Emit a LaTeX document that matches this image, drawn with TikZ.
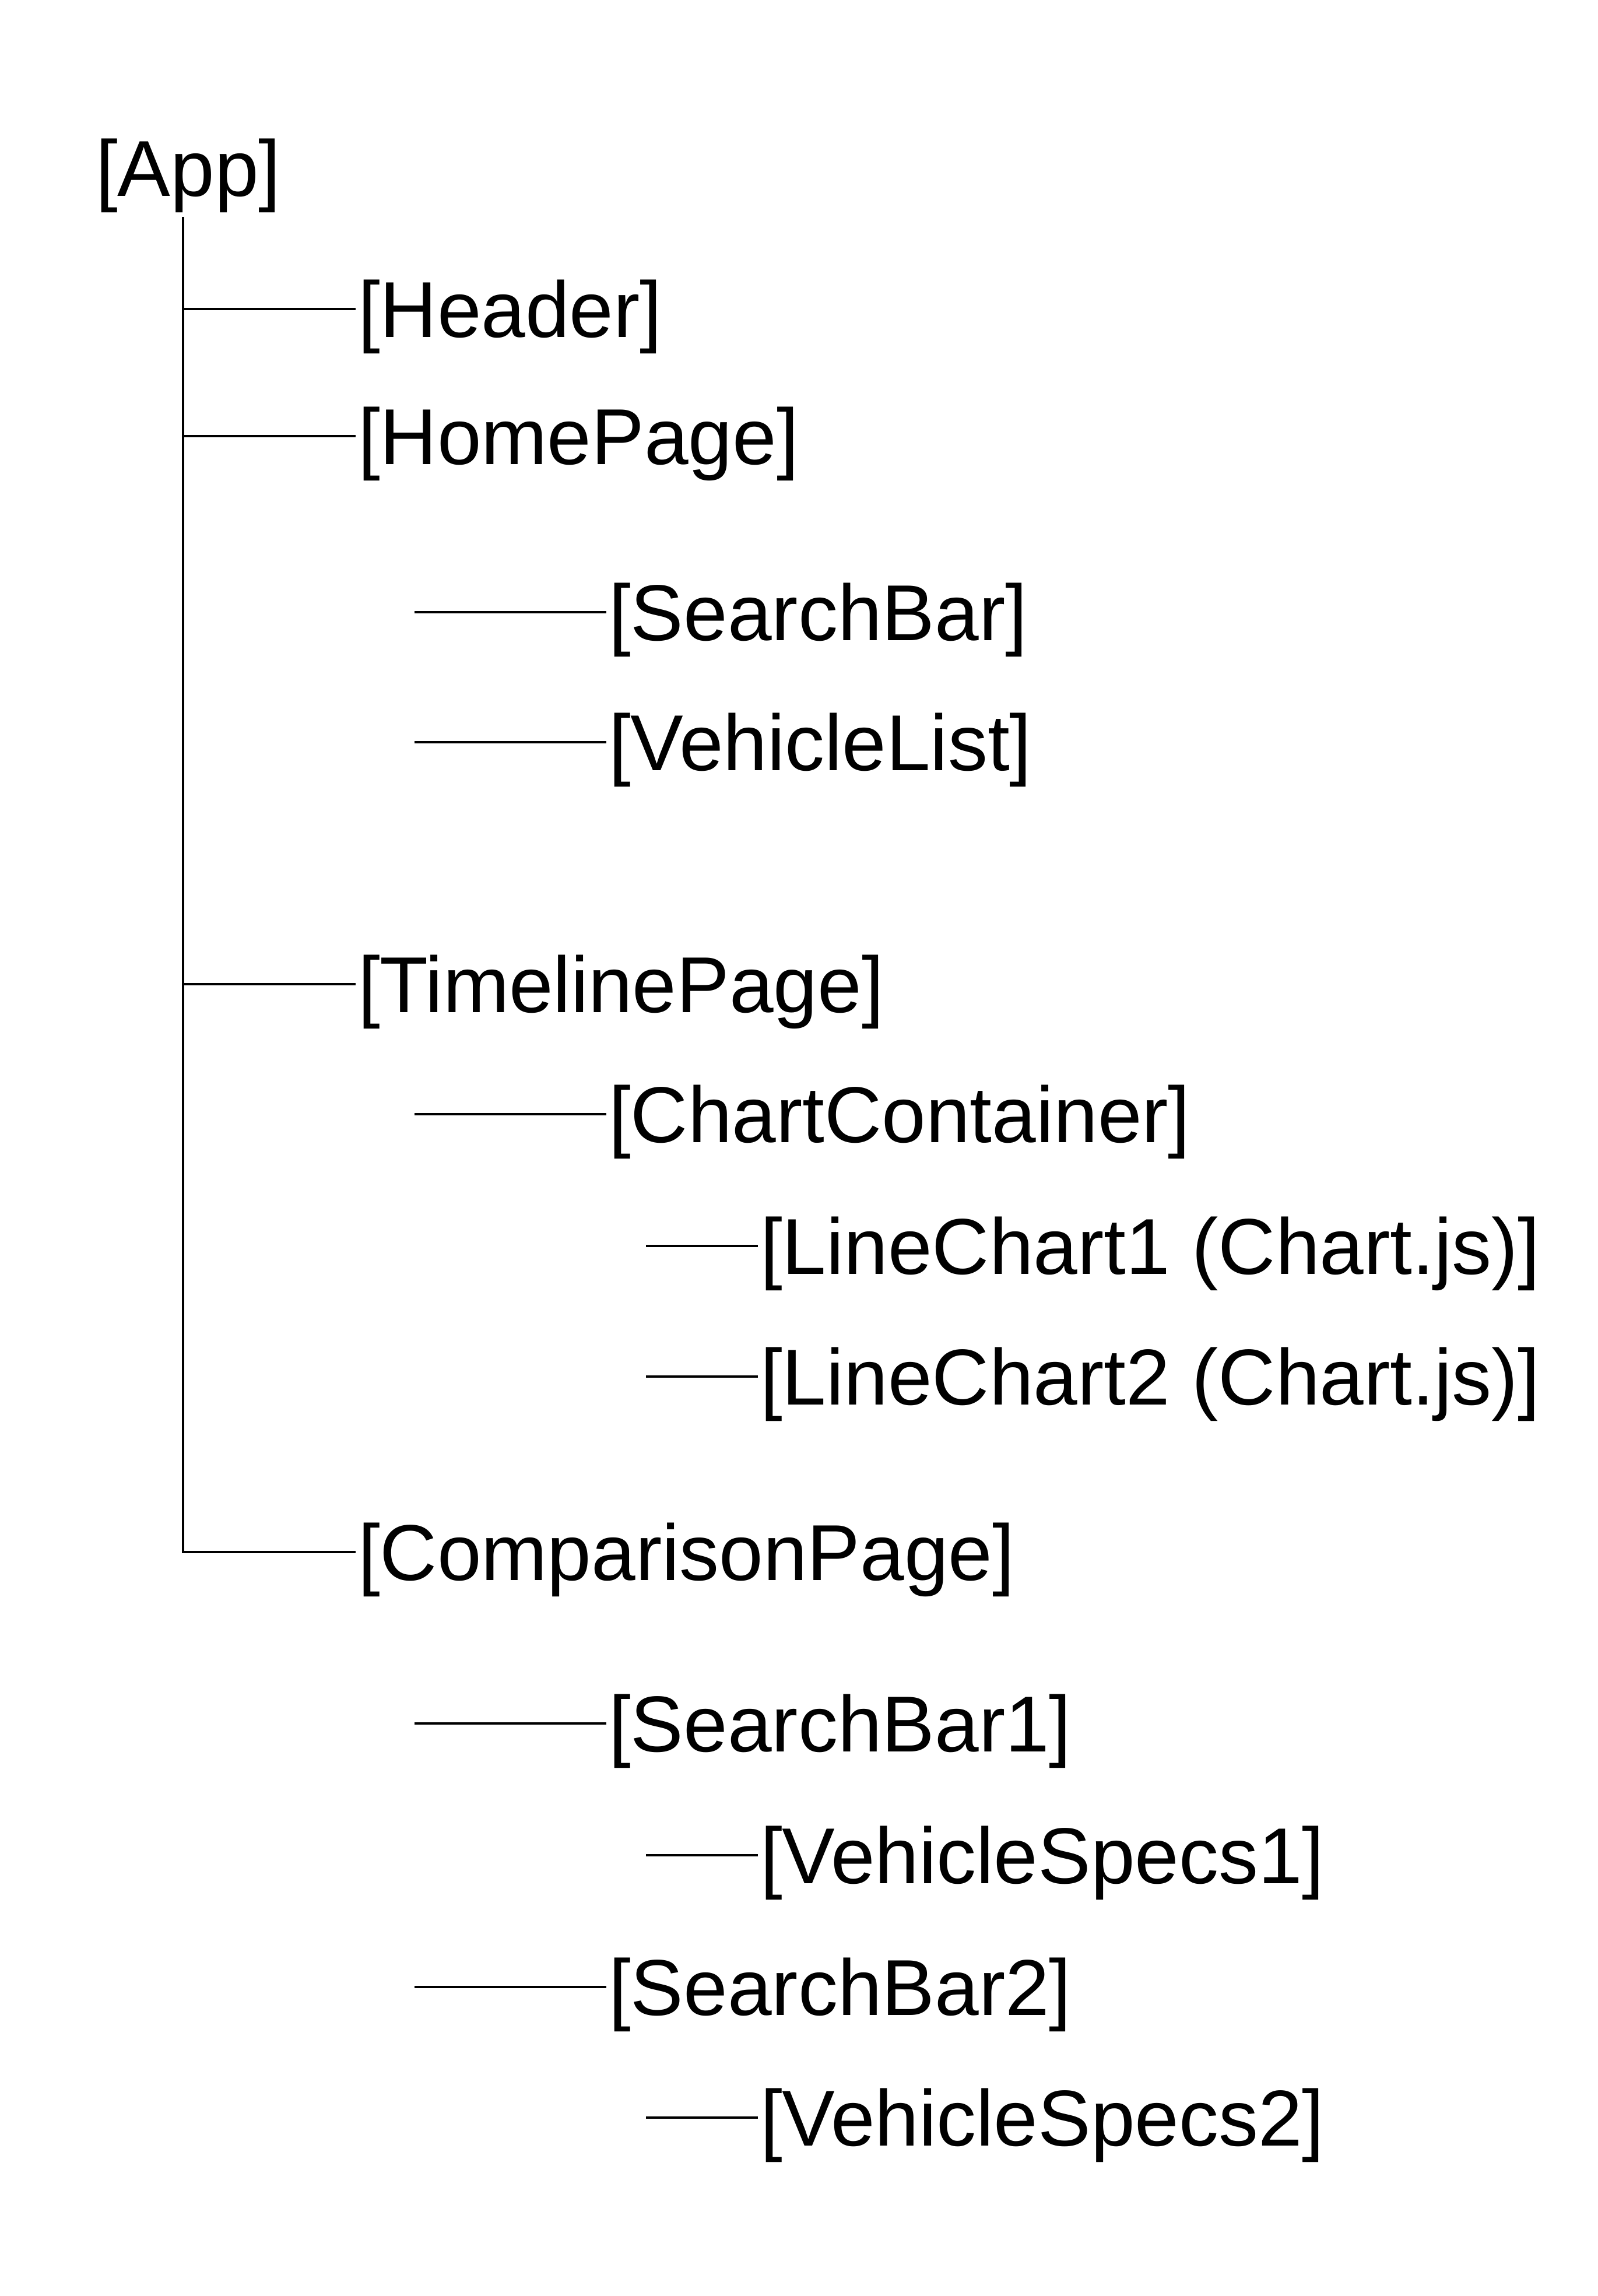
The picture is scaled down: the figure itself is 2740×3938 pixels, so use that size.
\documentclass[tikz,border=0pt]{standalone}
\usepackage{fontspec}
\setmainfont{Liberation Sans}
\usetikzlibrary{positioning}

\begin{document}
\begin{tikzpicture}[
  x=0.25pt, y=0.25pt,
  comp/.style={anchor=west, inner sep=1pt, outer sep=0pt,
               text height=31pt, text depth=7pt,
               font=\fontsize{34}{40}\selectfont},
  link/.style={line width=1.2pt, line cap=butt}]

\useasboundingbox (0,0) rectangle (2740,-3938);

% columns for the branch lines
\coordinate (top) at (314,-372);
\coordinate (c2)  at (711,0);
\coordinate (c3)  at (1108,0);

\node[comp] (app)  at (160,-289)  {[App]};
\node[comp] (hdr)  at (610,-530)  {[Header]};
\node[comp] (home) at (610,-748)  {[HomePage]};
\node[comp] (sb)   at (1040,-1050) {[SearchBar]};
\node[comp] (vl)   at (1040,-1273) {[VehicleList]};
\node[comp] (tl)   at (610,-1688) {[TimelinePage]};
\node[comp] (cc)   at (1040,-1911) {[ChartContainer]};
\node[comp] (lc1)  at (1300,-2137) {[LineChart1 (Chart.js)]};
\node[comp] (lc2)  at (1300,-2361) {[LineChart2 (Chart.js)]};
\node[comp] (cmp)  at (610,-2662) {[ComparisonPage]};
\node[comp] (sb1)  at (1040,-2956) {[SearchBar1]};
\node[comp] (vs1)  at (1300,-3182) {[VehicleSpecs1]};
\node[comp] (sb2)  at (1040,-3408) {[SearchBar2]};
\node[comp] (vs2)  at (1300,-3632) {[VehicleSpecs2]};

% trunk
\draw[link] (top) -- (top |- cmp.west) -- (cmp.west);
\draw[link] (top |- hdr.west)  -- (hdr.west);
\draw[link] (top |- home.west) -- (home.west);
\draw[link] (top |- tl.west)   -- (tl.west);

% second level
\draw[link] (c2 |- sb.west)  -- (sb.west);
\draw[link] (c2 |- vl.west)  -- (vl.west);
\draw[link] (c2 |- cc.west)  -- (cc.west);
\draw[link] (c2 |- sb1.west) -- (sb1.west);
\draw[link] (c2 |- sb2.west) -- (sb2.west);

% third level
\draw[link] (c3 |- lc1.west) -- (lc1.west);
\draw[link] (c3 |- lc2.west) -- (lc2.west);
\draw[link] (c3 |- vs1.west) -- (vs1.west);
\draw[link] (c3 |- vs2.west) -- (vs2.west);
\end{tikzpicture}
\end{document}
